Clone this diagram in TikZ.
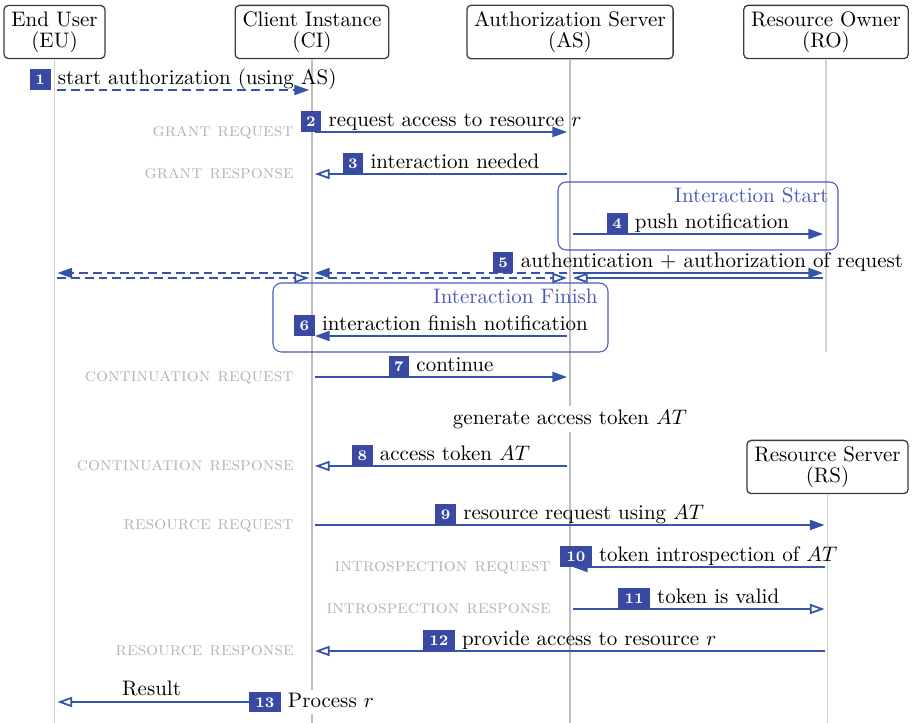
\documentclass[tikz,border=0pt]{standalone}
\usetikzlibrary{arrows.meta,fit}

\definecolor{msgblue}{RGB}{52,84,170}
\definecolor{badgeblue}{RGB}{58,74,163}
\definecolor{groupblue}{RGB}{72,90,185}
\definecolor{lifegray}{RGB}{208,208,208}
\definecolor{lifegraydark}{RGB}{190,190,190}
\definecolor{notegray}{RGB}{180,180,180}
\definecolor{boxgray}{RGB}{60,60,60}

% numbered step badge placed in front of a message text
\newcommand{\stepbadge}[1]{%
  {\setlength{\fboxsep}{0pt}%
   \ifnum#1<10 \def\stepbadgewd{9.8pt}\else\def\stepbadgewd{15pt}\fi
   \colorbox{badgeblue}{\rule[-2.5pt]{0pt}{9.9pt}\makebox[\stepbadgewd]{\color{white}\scriptsize\bfseries #1}}}%
  \hspace{3.5pt}}

\tikzset{
  actor/.style={draw=boxgray, line width=0.6pt, rounded corners=2pt, align=center,
    inner xsep=3.5pt, inner ysep=2.9pt, fill=white, font=\fontsize{10}{10}\selectfont},
  life/.style={draw=lifegray, line width=0.5pt},
  lifemain/.style={draw=lifegraydark, line width=0.9pt},
  msg/.style={draw=msgblue, line width=0.85pt, -{Triangle[length=7pt,width=4.8pt]},
    shorten >=1.4pt, shorten <=1.2pt},
  reply/.style={msg, -{Triangle[open,length=7pt,width=4.8pt]}},
  async/.style={msg, dash pattern=on 4.2pt off 2.4pt},
  asyncreply/.style={reply, dash pattern=on 4.2pt off 2.4pt},
  lbl/.style={above, inner xsep=0pt, inner ysep=0.8pt, yshift=-1.2pt},
  note/.style={anchor=base east, text=notegray, font=\small\scshape, inner sep=0pt},
  group/.style={draw=groupblue, line width=0.5pt, rounded corners=4pt, inner sep=0pt},
  grouptitle/.style={anchor=base east, text=groupblue, inner sep=0pt},
}

\begin{document}
\begin{tikzpicture}[x=0.47619pt, y=-0.47619pt]
\useasboundingbox (0,0) rectangle (912,723);

% participants
\node[actor] (EU) at (54.5,32) {End User\\(EU)};
\node[actor] (CI) at (312,32) {Client Instance\\(CI)};
\node[actor] (AS) at (570,32) {Authorization Server\\(AS)};
\node[actor] (RO) at (826,32) {Resource Owner\\(RO)};
\node[actor] (RS) at (827.5,467) {Resource Server\\(RS)};

% lifelines
\draw[life] (EU.south) -- (EU.south |- 0,723);
\draw[lifemain] (CI.south) -- (CI.south |- 0,723);
\draw[lifemain] (AS.south) -- (AS.south |- 0,723);
\draw[life] (RO.south) -- (RO.south |- 0,352);
\draw[life] (RS.south) -- (RS.south |- 0,723);

% interaction frames
\node[group, fit={(558,182) (838,250)}] (istart) {};
\node[grouptitle] (istarttitle) at (829,203) {Interaction Start};
\node[group, fit={(273,283) (608,352)}] (ifinish) {};
\node[grouptitle] (ifinishtitle) at (598,304) {Interaction Finish};

% 1
\draw[async] (EU |- 0,90) -- node[lbl] (l1) {\stepbadge{1}start authorization (using AS)} (CI |- 0,90);
% 2
\draw[msg] (CI |- 0,132) -- node[lbl] (l2) {\stepbadge{2}request access to resource $r$} (AS |- 0,132);
\node[note] (n2) at (294,137) {grant request};
% 3
\draw[reply] (AS |- 0,174) -- node[lbl] (l3) {\stepbadge{3}interaction needed} (CI |- 0,174);
\node[note] (n3) at (294,179) {grant response};
% 4
\draw[msg] (AS |- 0,234) -- node[lbl] (l4) {\stepbadge{4}push notification} (RO |- 0,234);
% 5
\draw[msg] (AS |- 0,273) -- node[lbl] (l5) {\stepbadge{5}authentication + authorization of request} (RO |- 0,273);
\draw[reply] (RO |- 0,278) -- (AS |- 0,278);
\draw[async] (AS |- 0,273) -- (CI |- 0,273);
\draw[async] (CI |- 0,273) -- (EU |- 0,273);
\draw[asyncreply] (EU |- 0,278) -- (CI |- 0,278);
\draw[asyncreply] (CI |- 0,278) -- (AS |- 0,278);
% 6
\draw[msg] (AS |- 0,336) -- node[lbl] (l6) {\stepbadge{6}interaction finish notification} (CI |- 0,336);
% 7
\draw[msg] (CI |- 0,377) -- node[lbl] (l7) {\stepbadge{7}continue} (AS |- 0,377);
\node[note] (n7) at (294,382) {continuation request};
% token generation
\node[fill=white, inner xsep=2pt, inner ysep=1.5pt] (gen) at (570,419) {generate access token $AT$};
% 8
\draw[reply] (AS |- 0,466) -- node[lbl] (l8) {\stepbadge{8}access token $AT$} (CI |- 0,466);
\node[note] (n8) at (294,471) {continuation response};
% 9
\draw[msg] (CI |- 0,525) -- node[lbl] (l9) {\stepbadge{9}resource request using $AT$} (RS |- 0,525);
\node[note] (n9) at (294,530) {resource request};
% 10
\draw[msg] (RS |- 0,567) -- node[lbl] (l10) {\stepbadge{10}token introspection of $AT$} (AS |- 0,567);
\node[note] (n10) at (551,572) {introspection request};
% 11
\draw[reply] (AS |- 0,609) -- node[lbl] (l11) {\stepbadge{11}token is valid} (RS |- 0,609);
\node[note] (n11) at (551,614) {introspection response};
% 12
\draw[reply] (RS |- 0,651) -- node[lbl] (l12) {\stepbadge{12}provide access to resource $r$} (CI |- 0,651);
\node[note] (n12) at (294,656) {resource response};
% 13
\node[fill=white, inner xsep=0pt, inner ysep=1pt] (proc) at (311.5,702) {\stepbadge{13}Process $r$};
\draw[reply, shorten <=0pt] (proc.west) -- node[above, inner sep=2.4pt] (res) {Result} (EU |- 0,702);
\end{tikzpicture}
\end{document}
